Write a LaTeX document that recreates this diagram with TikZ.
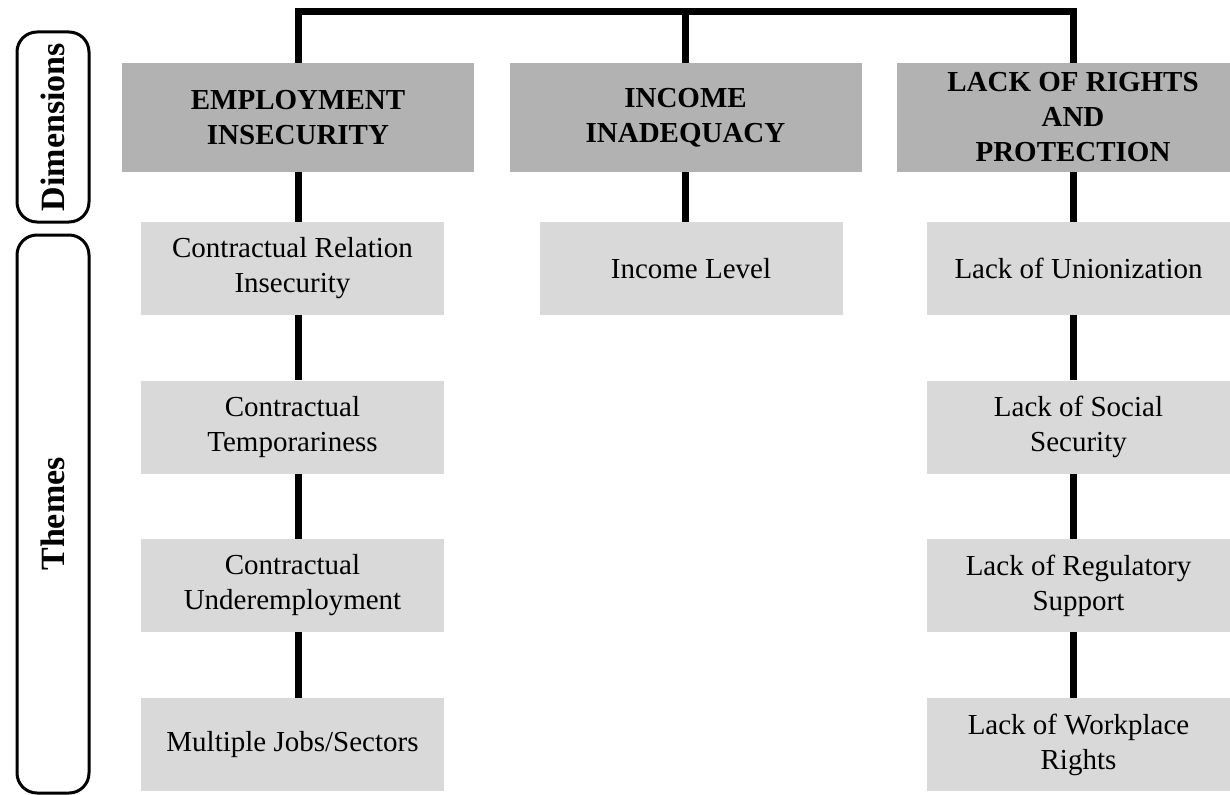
\documentclass[tikz,border=0pt]{standalone}
\usepackage{fontspec}
\setmainfont{Liberation Serif}
\begin{document}
\begin{tikzpicture}[x=0.75pt, y=-0.75pt]
    \tikzstyle{wire} = [line width=5.25pt]
    \tikzstyle{dimension} = [fill=black!30, minimum width=264pt, minimum height=81.75pt, align=center, font=\fontsize{21.75}{26.25}\selectfont\bfseries, inner sep=0pt]
    \tikzstyle{theme} = [fill=black!15, minimum width=227.25pt, minimum height=69.75pt, align=center, font=\fontsize{21.75}{26.25}\selectfont, inner sep=0pt]
    \tikzstyle{label} = [draw, line width=2.25pt, rounded corners=15pt, rotate=90, minimum height=54pt, inner sep=0pt, font=\fontsize{25.5}{30}\selectfont\bfseries]
    \clip (0, 0) rectangle (1230, 795);
    \node[label, minimum width=142.5pt] (dimlabel) at (53, 127) {Dimensions};
    \node[label, minimum width=418.5pt] (themelabel) at (53, 514) {Themes};
    \node[dimension] (empl) at (298, 117.5) {EMPLOYMENT\\INSECURITY};
    \node[dimension] (inc) at (685.5, 117.5) {INCOME\\INADEQUACY};
    \node[dimension] (rights) at (1073, 117.5) {LACK OF RIGHTS\\AND\\PROTECTION};
    \node[theme] (crel) at (292.5, 268.5) {Contractual Relation\\Insecurity};
    \node[theme] (ctemp) at (292.5, 427) {Contractual\\Temporariness};
    \node[theme] (cunder) at (292.5, 585.5) {Contractual\\Underemployment};
    \node[theme] (multi) at (292.5, 744.5) {Multiple Jobs/Sectors};
    \node[theme] (level) at (691, 268.5) {Income Level};
    \node[theme] (union) at (1078.5, 268.5) {Lack of Unionization};
    \node[theme] (social) at (1078.5, 427) {Lack of Social\\Security};
    \node[theme] (regul) at (1078.5, 585.5) {Lack of Regulatory\\Support};
    \node[theme] (work) at (1078.5, 744.5) {Lack of Workplace\\Rights};
    \coordinate (top) at (685.5, 11.5);
    \draw[wire] (empl.north) |- (top) -| (rights.north);
    \draw[wire] (inc.north) -- (top);
    \draw[wire] (empl.south) -- (empl.south |- crel.north);
    \draw[wire] (empl.south |- crel.south) -- (empl.south |- ctemp.north);
    \draw[wire] (empl.south |- ctemp.south) -- (empl.south |- cunder.north);
    \draw[wire] (empl.south |- cunder.south) -- (empl.south |- multi.north);
    \draw[wire] (inc.south) -- (inc.south |- level.north);
    \draw[wire] (rights.south) -- (rights.south |- union.north);
    \draw[wire] (rights.south |- union.south) -- (rights.south |- social.north);
    \draw[wire] (rights.south |- social.south) -- (rights.south |- regul.north);
    \draw[wire] (rights.south |- regul.south) -- (rights.south |- work.north);
\end{tikzpicture}
\end{document}
